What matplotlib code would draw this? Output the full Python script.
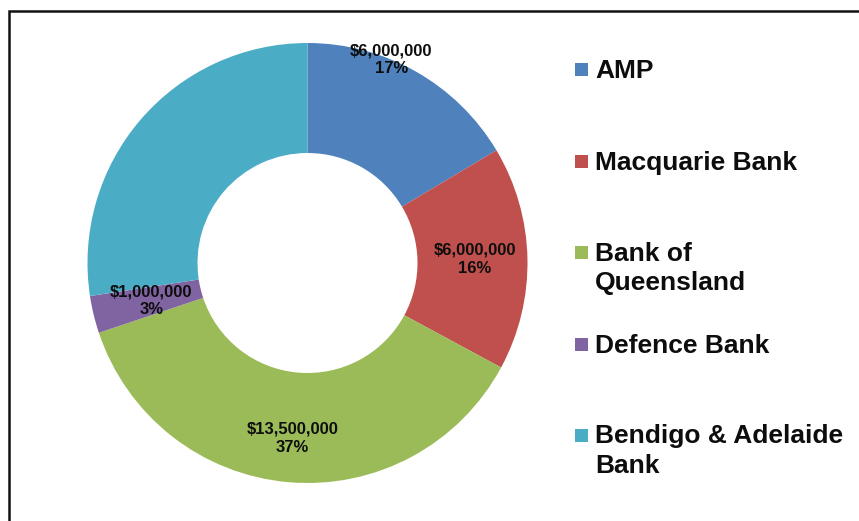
import matplotlib
matplotlib.use("Agg")
import matplotlib.pyplot as plt
from matplotlib.patches import Rectangle
import numpy as np

categories = ["AMP", "Macquarie Bank", "Bank of Queensland", "Defence Bank", "Bendigo & Adelaide Bank"]
legend_labels = ["AMP", "Macquarie Bank", "Bank of\nQueensland", "Defence Bank", "Bendigo & Adelaide\nBank"]
values = [6000000, 6000000, 13500000, 1000000, 10000000]
value_labels = ["$6,000,000", "$6,000,000", "$13,500,000", "$1,000,000", None]
pct_labels = ["17%", "16%", "37%", "3%", None]
colors = ["#4F81BD", "#C0504D", "#9BBB59", "#8064A2", "#4BACC6"]

W, H = 859, 521
fig = plt.figure(figsize=(W / 100, H / 100), dpi=100)
fig.patch.set_facecolor("white")
plt.rcParams['font.family'] = ['Liberation Sans', 'DejaVu Sans']

# frame
fig.patches.append(Rectangle((8.5 / W, -0.05), 1.2, 1.05 - 11 / H, transform=fig.transFigure,
                             fill=False, edgecolor="#111111", linewidth=1.8, zorder=0))

cx, cy, R = 307.5, 263, 220
ax = fig.add_axes([(cx - R) / W, (H - cy - R) / H, 2 * R / W, 2 * R / H])

wedges, _ = ax.pie(values, colors=colors, startangle=90, counterclock=False, radius=1.0,
                   wedgeprops=dict(width=0.5, edgecolor="none"))
ax.set_xlim(-1, 1)
ax.set_ylim(-1, 1)
ax.axis("off")

total = sum(values)
# label placement: (angle offset in degrees, radius) per slice
label_style = [(-7.2, 1.0), (0, 0.76), (0, 0.80), (0, 0.73), (0, 0.75)]
start = 90.0
for i, v in enumerate(values):
    span = 360.0 * v / total
    mid = start - span / 2
    start -= span
    if value_labels[i] is None:
        continue
    off, r = label_style[i]
    ang = np.deg2rad(mid - off)
    ax.text(r * np.cos(ang), r * np.sin(ang), value_labels[i] + "\n" + pct_labels[i],
            ha="center", va="center", fontsize=12, fontweight="bold", color="#0d0d0d",
            linespacing=1.25, clip_on=False)

# legend
legend_y = [69.5, 161.5, 252.5, 344.5, 435]
for i, lab in enumerate(legend_labels):
    y = legend_y[i]
    fig.patches.append(Rectangle((575 / W, 1 - (y + 6.5) / H), 13 / W, 13 / H,
                                 transform=fig.transFigure, facecolor=colors[i], edgecolor="none"))
    fig.text(595 / W, 1 - (y - 10.5) / H, lab, ha="left", va="top", fontsize=19,
             fontweight="bold", color="#0d0d0d", linespacing=1.27)

fig.savefig("out.png", dpi=100)
